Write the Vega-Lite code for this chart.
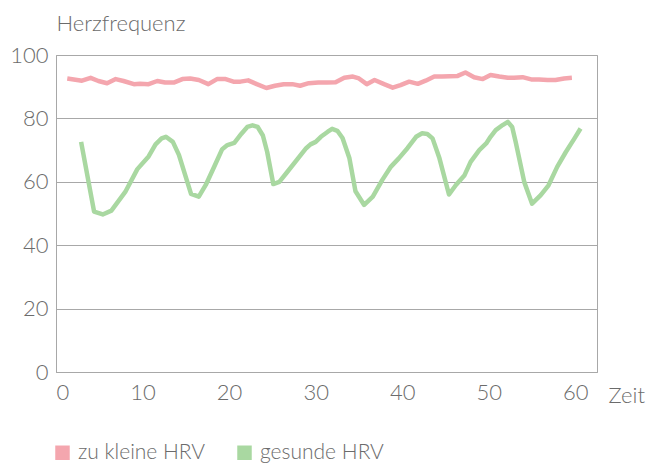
{
  "$schema": "https://vega.github.io/schema/vega-lite/v6.json",
  "autosize": "none",
  "width": 541,
  "height": 317,
  "padding": {"left": 56, "top": 55, "right": 57, "bottom": 94},
  "background": "white",
  "config": {
    "font": "Lato",
    "view": {"stroke": "#a8a8a8", "strokeWidth": 1},
    "axis": {"labelFont": "Lato", "titleFont": "Lato", "labelColor": "#6b6b6b", "titleColor": "#6b6b6b", "labelFontSize": 22, "titleFontSize": 22, "labelFontWeight": 300, "titleFontWeight": 300, "domainColor": "#a8a8a8", "gridColor": "#a8a8a8", "gridWidth": 1, "ticks": false},
    "legend": {"labelFont": "Lato", "labelFontSize": 21, "labelFontWeight": 300, "labelColor": "#6b6b6b"}
  },
  "datasets": {
    "hrv": [
      {"serie": "zu kleine HRV", "t": 1.3, "hf": 92.6},
      {"serie": "zu kleine HRV", "t": 3.0, "hf": 91.9},
      {"serie": "zu kleine HRV", "t": 4.0, "hf": 92.8},
      {"serie": "zu kleine HRV", "t": 4.9, "hf": 91.8},
      {"serie": "zu kleine HRV", "t": 5.9, "hf": 91.1},
      {"serie": "zu kleine HRV", "t": 6.9, "hf": 92.4},
      {"serie": "zu kleine HRV", "t": 7.8, "hf": 91.8},
      {"serie": "zu kleine HRV", "t": 9.0, "hf": 90.8},
      {"serie": "zu kleine HRV", "t": 9.7, "hf": 90.9},
      {"serie": "zu kleine HRV", "t": 10.7, "hf": 90.8},
      {"serie": "zu kleine HRV", "t": 11.7, "hf": 91.8},
      {"serie": "zu kleine HRV", "t": 12.6, "hf": 91.3},
      {"serie": "zu kleine HRV", "t": 13.6, "hf": 91.3},
      {"serie": "zu kleine HRV", "t": 14.6, "hf": 92.4},
      {"serie": "zu kleine HRV", "t": 15.5, "hf": 92.6},
      {"serie": "zu kleine HRV", "t": 16.5, "hf": 92.1},
      {"serie": "zu kleine HRV", "t": 17.6, "hf": 90.8},
      {"serie": "zu kleine HRV", "t": 18.6, "hf": 92.4},
      {"serie": "zu kleine HRV", "t": 19.6, "hf": 92.4},
      {"serie": "zu kleine HRV", "t": 20.5, "hf": 91.6},
      {"serie": "zu kleine HRV", "t": 21.3, "hf": 91.6},
      {"serie": "zu kleine HRV", "t": 22.2, "hf": 92.0},
      {"serie": "zu kleine HRV", "t": 23.2, "hf": 90.8},
      {"serie": "zu kleine HRV", "t": 24.3, "hf": 89.6},
      {"serie": "zu kleine HRV", "t": 25.3, "hf": 90.3},
      {"serie": "zu kleine HRV", "t": 26.3, "hf": 90.8},
      {"serie": "zu kleine HRV", "t": 27.3, "hf": 90.8},
      {"serie": "zu kleine HRV", "t": 28.2, "hf": 90.3},
      {"serie": "zu kleine HRV", "t": 29.2, "hf": 91.1},
      {"serie": "zu kleine HRV", "t": 30.3, "hf": 91.3},
      {"serie": "zu kleine HRV", "t": 31.3, "hf": 91.3},
      {"serie": "zu kleine HRV", "t": 32.3, "hf": 91.4},
      {"serie": "zu kleine HRV", "t": 33.3, "hf": 92.8},
      {"serie": "zu kleine HRV", "t": 34.3, "hf": 93.2},
      {"serie": "zu kleine HRV", "t": 35.0, "hf": 92.6},
      {"serie": "zu kleine HRV", "t": 35.9, "hf": 90.8},
      {"serie": "zu kleine HRV", "t": 36.8, "hf": 92.1},
      {"serie": "zu kleine HRV", "t": 37.9, "hf": 90.8},
      {"serie": "zu kleine HRV", "t": 38.9, "hf": 89.7},
      {"serie": "zu kleine HRV", "t": 39.8, "hf": 90.5},
      {"serie": "zu kleine HRV", "t": 40.8, "hf": 91.6},
      {"serie": "zu kleine HRV", "t": 41.8, "hf": 90.9},
      {"serie": "zu kleine HRV", "t": 42.7, "hf": 91.9},
      {"serie": "zu kleine HRV", "t": 43.7, "hf": 93.2},
      {"serie": "zu kleine HRV", "t": 44.6, "hf": 93.2},
      {"serie": "zu kleine HRV", "t": 45.5, "hf": 93.3},
      {"serie": "zu kleine HRV", "t": 46.4, "hf": 93.4},
      {"serie": "zu kleine HRV", "t": 47.3, "hf": 94.5},
      {"serie": "zu kleine HRV", "t": 48.3, "hf": 93.0},
      {"serie": "zu kleine HRV", "t": 49.3, "hf": 92.4},
      {"serie": "zu kleine HRV", "t": 50.2, "hf": 93.7},
      {"serie": "zu kleine HRV", "t": 51.2, "hf": 93.2},
      {"serie": "zu kleine HRV", "t": 52.2, "hf": 92.8},
      {"serie": "zu kleine HRV", "t": 52.9, "hf": 92.8},
      {"serie": "zu kleine HRV", "t": 53.9, "hf": 93.0},
      {"serie": "zu kleine HRV", "t": 54.9, "hf": 92.3},
      {"serie": "zu kleine HRV", "t": 55.8, "hf": 92.3},
      {"serie": "zu kleine HRV", "t": 56.8, "hf": 92.1},
      {"serie": "zu kleine HRV", "t": 57.7, "hf": 92.1},
      {"serie": "zu kleine HRV", "t": 58.7, "hf": 92.6},
      {"serie": "zu kleine HRV", "t": 59.6, "hf": 92.8},
      {"serie": "gesunde HRV", "t": 2.9, "hf": 72.6},
      {"serie": "gesunde HRV", "t": 4.4, "hf": 50.6},
      {"serie": "gesunde HRV", "t": 5.4, "hf": 49.7},
      {"serie": "gesunde HRV", "t": 6.4, "hf": 50.9},
      {"serie": "gesunde HRV", "t": 8.0, "hf": 56.8},
      {"serie": "gesunde HRV", "t": 9.4, "hf": 64.0},
      {"serie": "gesunde HRV", "t": 10.7, "hf": 68.0},
      {"serie": "gesunde HRV", "t": 11.5, "hf": 71.8},
      {"serie": "gesunde HRV", "t": 12.2, "hf": 73.7},
      {"serie": "gesunde HRV", "t": 12.7, "hf": 74.2},
      {"serie": "gesunde HRV", "t": 13.5, "hf": 72.6},
      {"serie": "gesunde HRV", "t": 14.2, "hf": 68.5},
      {"serie": "gesunde HRV", "t": 15.6, "hf": 56.2},
      {"serie": "gesunde HRV", "t": 16.5, "hf": 55.3},
      {"serie": "gesunde HRV", "t": 17.3, "hf": 59.0},
      {"serie": "gesunde HRV", "t": 18.3, "hf": 64.9},
      {"serie": "gesunde HRV", "t": 19.2, "hf": 70.3},
      {"serie": "gesunde HRV", "t": 19.8, "hf": 71.6},
      {"serie": "gesunde HRV", "t": 20.6, "hf": 72.3},
      {"serie": "gesunde HRV", "t": 21.4, "hf": 75.1},
      {"serie": "gesunde HRV", "t": 22.1, "hf": 77.3},
      {"serie": "gesunde HRV", "t": 22.7, "hf": 77.8},
      {"serie": "gesunde HRV", "t": 23.3, "hf": 77.3},
      {"serie": "gesunde HRV", "t": 23.9, "hf": 74.6},
      {"serie": "gesunde HRV", "t": 24.4, "hf": 69.4},
      {"serie": "gesunde HRV", "t": 25.1, "hf": 59.3},
      {"serie": "gesunde HRV", "t": 25.8, "hf": 60.0},
      {"serie": "gesunde HRV", "t": 26.6, "hf": 62.7},
      {"serie": "gesunde HRV", "t": 28.9, "hf": 70.6},
      {"serie": "gesunde HRV", "t": 29.4, "hf": 71.8},
      {"serie": "gesunde HRV", "t": 30.0, "hf": 72.6},
      {"serie": "gesunde HRV", "t": 30.6, "hf": 74.2},
      {"serie": "gesunde HRV", "t": 31.4, "hf": 75.8},
      {"serie": "gesunde HRV", "t": 31.9, "hf": 76.7},
      {"serie": "gesunde HRV", "t": 32.5, "hf": 76.1},
      {"serie": "gesunde HRV", "t": 33.1, "hf": 73.8},
      {"serie": "gesunde HRV", "t": 33.9, "hf": 67.4},
      {"serie": "gesunde HRV", "t": 34.6, "hf": 57.0},
      {"serie": "gesunde HRV", "t": 35.6, "hf": 52.7},
      {"serie": "gesunde HRV", "t": 36.6, "hf": 55.3},
      {"serie": "gesunde HRV", "t": 37.7, "hf": 60.6},
      {"serie": "gesunde HRV", "t": 38.7, "hf": 64.8},
      {"serie": "gesunde HRV", "t": 39.6, "hf": 67.4},
      {"serie": "gesunde HRV", "t": 40.6, "hf": 70.6},
      {"serie": "gesunde HRV", "t": 41.6, "hf": 74.2},
      {"serie": "gesunde HRV", "t": 42.3, "hf": 75.3},
      {"serie": "gesunde HRV", "t": 42.9, "hf": 75.1},
      {"serie": "gesunde HRV", "t": 43.5, "hf": 73.7},
      {"serie": "gesunde HRV", "t": 44.3, "hf": 67.4},
      {"serie": "gesunde HRV", "t": 45.4, "hf": 56.0},
      {"serie": "gesunde HRV", "t": 46.2, "hf": 59.0},
      {"serie": "gesunde HRV", "t": 47.2, "hf": 62.1},
      {"serie": "gesunde HRV", "t": 47.9, "hf": 66.3},
      {"serie": "gesunde HRV", "t": 48.9, "hf": 70.0},
      {"serie": "gesunde HRV", "t": 49.7, "hf": 72.1},
      {"serie": "gesunde HRV", "t": 50.2, "hf": 74.2},
      {"serie": "gesunde HRV", "t": 50.8, "hf": 76.3},
      {"serie": "gesunde HRV", "t": 51.6, "hf": 77.9},
      {"serie": "gesunde HRV", "t": 52.2, "hf": 78.9},
      {"serie": "gesunde HRV", "t": 52.7, "hf": 77.3},
      {"serie": "gesunde HRV", "t": 53.1, "hf": 72.6},
      {"serie": "gesunde HRV", "t": 54.1, "hf": 59.9},
      {"serie": "gesunde HRV", "t": 55.0, "hf": 53.1},
      {"serie": "gesunde HRV", "t": 56.0, "hf": 55.8},
      {"serie": "gesunde HRV", "t": 56.9, "hf": 58.9},
      {"serie": "gesunde HRV", "t": 57.9, "hf": 64.7},
      {"serie": "gesunde HRV", "t": 58.9, "hf": 69.4},
      {"serie": "gesunde HRV", "t": 59.9, "hf": 73.7},
      {"serie": "gesunde HRV", "t": 60.6, "hf": 76.8}
    ]
  },
  "data": {"name": "hrv"},
  "mark": {"type": "line", "strokeWidth": 4.5, "strokeJoin": "round", "strokeCap": "butt"},
  "encoding": {
    "x": {
      "field": "t", "type": "quantitative",
      "scale": {"domain": [0, 62.5], "nice": false, "zero": false},
      "axis": {"values": [0, 10, 20, 30, 40, 50, 60], "grid": false, "labelPadding": 10, "labelBaseline": "top", "title": "Zeit", "titleAnchor": "start", "titleAlign": "left", "titleBaseline": "alphabetic", "titleX": 552, "titleY": 30}
    },
    "y": {
      "field": "hf", "type": "quantitative",
      "scale": {"domain": [0, 100], "nice": false},
      "axis": {"values": [0, 20, 40, 60, 80, 100], "labelPadding": 8, "title": "Herzfrequenz", "titleAngle": 0, "titleAlign": "left", "titleBaseline": "alphabetic", "titleAnchor": "end", "titleX": 0, "titleY": -25}
    },
    "color": {
      "field": "serie", "type": "nominal",
      "scale": {"domain": ["zu kleine HRV", "gesunde HRV"], "range": ["#F4A6AE", "#A9D8A1"]},
      "legend": {
        "title": null, "orient": "none", "direction": "horizontal",
        "legendX": -4, "legendY": 387,
        "symbolType": "square", "symbolSize": 210, "symbolStrokeWidth": 0,
        "labelOffset": 5, "columnPadding": 28,
        "encode": {"symbols": {"update": {"fill": {"scale": "color", "field": "value"}, "opacity": {"value": 1}}}}
      }
    }
  }
}
